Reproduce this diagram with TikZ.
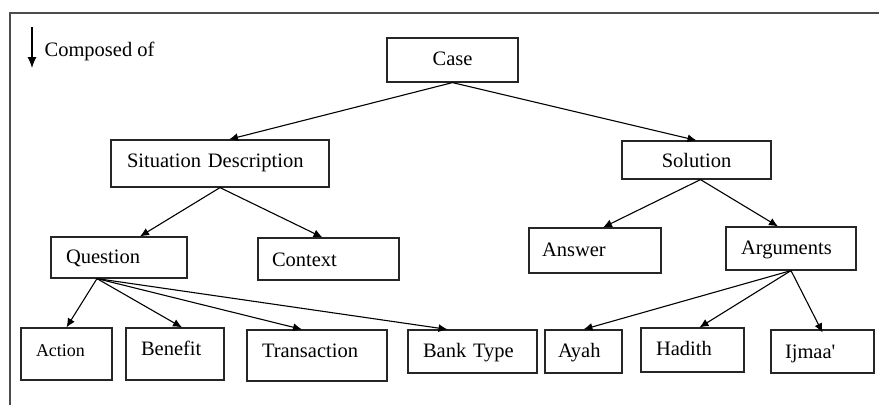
\documentclass[tikz,border=0pt]{standalone}
\usepackage{fontspec}
\setmainfont{Liberation Serif}
\usepackage{tikz}
\usetikzlibrary{arrows.meta}

\begin{document}
\begin{tikzpicture}[x=1pt,y=-1pt,>={Latex[length=9pt,width=8pt]}]
\tikzstyle{every node}=[draw=black!85,shape=rectangle,line width=1.2pt,inner ysep=0pt,inner xsep=15pt,align=left,text height=14pt,font=\fontsize{20.5}{24}\selectfont];
\useasboundingbox (0,0) rectangle (879,405);
\draw[line width=1.8pt,black!70] (10,405)--(10,13)--(879,13);

% legend
\coordinate (L1) at(32,27);
\coordinate (L2) at(32,68);
\draw[-{Latex[length=11pt,width=9pt]},line width=1.1pt] (L1)--(L2);
\node[draw=none,inner xsep=0pt,anchor=west](Comp) at(44,52){Composed of};

\node[text width=101pt,align=center,text depth=4pt,minimum height=44pt](Case) at(452.5,60){Case};

\node[text width=186pt,inner xsep=16pt,text depth=7pt,minimum height=47pt](Sit) at(220,163.5){Situation Description};
\node[text width=119pt,align=center,text depth=0pt,minimum height=38pt](Sol) at(696.5,160){Solution};

\node[text width=106pt,text depth=3pt,minimum height=41pt](Q) at(119,257.5){Question};
\node[text width=113pt,inner xsep=14pt,text depth=0pt,minimum height=42pt](Ctx) at(328.5,259){Context};
\node[text width=106pt,inner xsep=13pt,text depth=3pt,minimum height=45pt](Ans) at(595,250.5){Answer};
\node[text width=100pt,text depth=2pt,minimum height=43pt](Arg) at(791,248.5){Arguments};

\node[text width=61pt,text depth=10pt,minimum height=52pt,font=\fontsize{18}{22}\selectfont](Act) at(66.5,354){Action};
\node[text width=68pt,text depth=11pt,minimum height=52pt](Ben) at(175,354){Benefit};
\node[text width=110pt,text depth=11pt,minimum height=51pt](Tr) at(317,355.5){Transaction};
\node[text width=99pt,text depth=3pt,minimum height=43pt](BT) at(472.5,351.5){Bank Type};
\node[text width=51pt,inner xsep=13pt,text depth=3pt,minimum height=43pt](Ay) at(583.5,351.5){Ayah};
\node[text width=73pt,text depth=3pt,minimum height=44pt](Ha) at(692.5,350){Hadith};
\node[text width=75pt,inner xsep=14pt,text depth=0pt,minimum height=43pt](Ij) at(822.5,351.5){Ijmaa\textquotesingle};

\draw[->,line width=1.1pt] (Case.south)-- ([xshift=9pt]Sit.north);
\draw[->,line width=1.1pt] (Case.south)-- (Sol.north);
\draw[->,line width=1.1pt] (Sit.south)-- ([xshift=21pt]Q.north);
\draw[->,line width=1.1pt] (Sit.south)-- ([xshift=-6pt]Ctx.north);
\draw[->,line width=1.1pt] ([xshift=4pt]Sol.south)-- ([xshift=8pt]Ans.north);
\draw[->,line width=1.1pt] ([xshift=4pt]Sol.south)-- ([xshift=-13pt]Arg.north);

\draw[->,line width=1.1pt] ([xshift=-22pt]Q.south)-- (Act.north);
\draw[->,line width=1.1pt] ([xshift=-22pt]Q.south)-- ([xshift=7pt]Ben.north);
\draw[->,line width=1.1pt] ([xshift=-22pt]Q.south)-- ([xshift=-15pt]Tr.north);
\draw[->,line width=1.1pt] ([xshift=-22pt]Q.south)-- ([xshift=-25pt]BT.north);
\draw[->,line width=1.1pt] (Arg.south)-- (Ay.north);
\draw[->,line width=1.1pt] (Arg.south)-- ([xshift=7pt]Ha.north);
\draw[->,line width=1.1pt] (Arg.south)-- ([yshift=-3pt]Ij.north);

\end{tikzpicture}
\end{document}
